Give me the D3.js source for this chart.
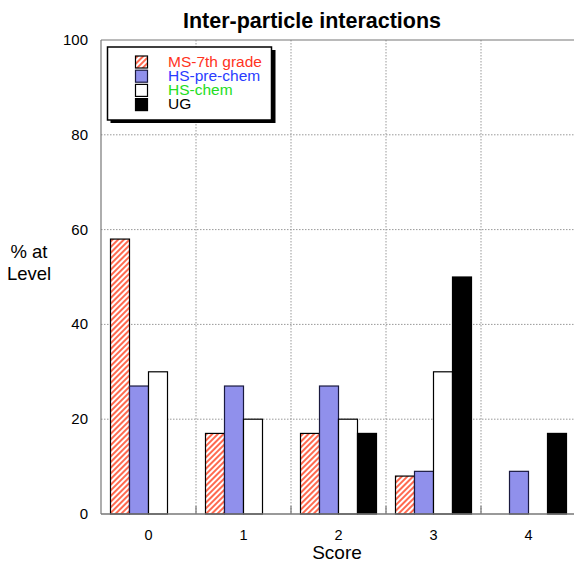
<!DOCTYPE html>
<html><head><meta charset="utf-8">
<script src="https://cdn.jsdelivr.net/npm/d3@7"></script>
<style>body{margin:0;background:#fff}svg{display:block;font-family:"Liberation Sans",Arial,Helvetica,sans-serif}</style>
</head><body>
<svg id="c" width="574" height="562"></svg>
<script>
const categories = ["0","1","2","3","4"];
const seriesNames = ["MS-7th grade","HS-pre-chem","HS-chem","UG"];
const msValues   = [58,17,17,8,0];
const hsPreValues = [27,27,27,9,9];
const hsChemValues = [30,20,20,30,0];
const ugValues   = [0,0,17,50,17];
const yTicks = [0,20,40,60,80,100];
const seriesValues = [msValues, hsPreValues, hsChemValues, ugValues];

(function(){
const svg = d3.select("#c");
const defs = svg.append("defs");
const pat = defs.append("pattern").attr("id","hatch").attr("patternUnits","userSpaceOnUse")
  .attr("width",4).attr("height",4).attr("patternTransform","rotate(45)");
pat.append("rect").attr("width",4).attr("height",4).attr("fill","#fff");
pat.append("rect").attr("x",0).attr("width",2).attr("height",4).attr("fill","#ff6a50");

const fills = ["url(#hatch)","#9090ec","#ffffff","#000000"];
const strokes = ["#000","#1a1a40","#000","#000"];
const textColors = ["#ff3322","#2a3cff","#22dd22","#000"];

const pL=101, pR=576, pT=40, pB=514;
const x = d3.scaleBand().domain(categories).range([pL,pR]);
const xs = d3.scaleBand().domain(seriesNames).range([0,x.bandwidth()]).paddingOuter(0.5);
const y = d3.scaleLinear().domain([0,100]).range([pB,pT]);

// grid
const g = svg.append("g");
g.selectAll(".hg").data(yTicks.filter(t=>t>0&&t<100)).join("line")
  .attr("x1",pL).attr("x2",574).attr("y1",d=>y(d)).attr("y2",d=>y(d))
  .attr("stroke","#999").attr("stroke-dasharray","1.5,1.5");
g.selectAll(".vg").data(categories.slice(1)).join("line")
  .attr("x1",d=>x(d)).attr("x2",d=>x(d)).attr("y1",pT).attr("y2",pB)
  .attr("stroke","#999").attr("stroke-dasharray","1.5,1.5");

// bars
seriesNames.forEach((s,i)=>{
  svg.append("g").selectAll("rect").data(categories.map((c,j)=>({c,v:seriesValues[i][j]})).filter(d=>d.v>0))
    .join("rect")
    .attr("x",d=>x(d.c)+xs(s)).attr("width",xs.bandwidth())
    .attr("y",d=>y(d.v)).attr("height",d=>y(0)-y(d.v))
    .attr("fill",fills[i]).attr("stroke",strokes[i]).attr("stroke-width",1.2);
});

// frame
svg.append("line").attr("x1",pL).attr("x2",574).attr("y1",pT).attr("y2",pT).attr("stroke","#777").attr("stroke-width",1.2);
svg.append("line").attr("x1",pL).attr("x2",pL).attr("y1",pT).attr("y2",pB).attr("stroke","#777").attr("stroke-width",1.2);
svg.append("line").attr("x1",pL).attr("x2",574).attr("y1",pB).attr("y2",pB).attr("stroke","#777").attr("stroke-width",1.5);
svg.selectAll(".tk").data(categories.slice(1)).join("line")
  .attr("x1",d=>x(d)).attr("x2",d=>x(d)).attr("y1",pB).attr("y2",pB-8)
  .attr("stroke","#777").attr("stroke-width",1.2);

// y labels
svg.selectAll(".yl").data(yTicks).join("text")
  .attr("x",88).attr("y",d=>y(d)+5).attr("text-anchor","end")
  .attr("font-size",15).text(d=>d);
// x labels
svg.selectAll(".xl").data(categories).join("text")
  .attr("x",d=>x(d)+x.bandwidth()/2).attr("y",540).attr("text-anchor","middle")
  .attr("font-size",14.5).text(d=>d);
svg.append("text").attr("x",337).attr("y",559).attr("text-anchor","middle").attr("font-size",19).text("Score");
svg.append("text").attr("x",29).attr("y",258).attr("text-anchor","middle").attr("font-size",18.5).text("% at");
svg.append("text").attr("x",29).attr("y",280).attr("text-anchor","middle").attr("font-size",18.5).text("Level");
svg.append("text").attr("x",312).attr("y",28).attr("text-anchor","middle").attr("font-size",21.5).attr("font-weight","bold").text("Inter-particle interactions");

// legend
const lg = svg.append("g");
lg.append("rect").attr("x",110.5).attr("y",50).attr("width",165).attr("height",73).attr("fill","#000");
lg.append("rect").attr("x",107.5).attr("y",47).attr("width",164).attr("height",73).attr("fill","#fff").attr("stroke","#000").attr("stroke-width",1.5);
seriesNames.forEach((s,i)=>{
  const yy = 56 + i*14.2;
  lg.append("rect").attr("x",135.5).attr("y",yy).attr("width",12).attr("height",12)
    .attr("fill",fills[i]).attr("stroke",strokes[i]).attr("stroke-width",1.2);
  lg.append("text").attr("x",168).attr("y",yy+10.5).attr("font-size",15.5).attr("fill",textColors[i]).text(s);
});
})();
</script>
</body></html>
